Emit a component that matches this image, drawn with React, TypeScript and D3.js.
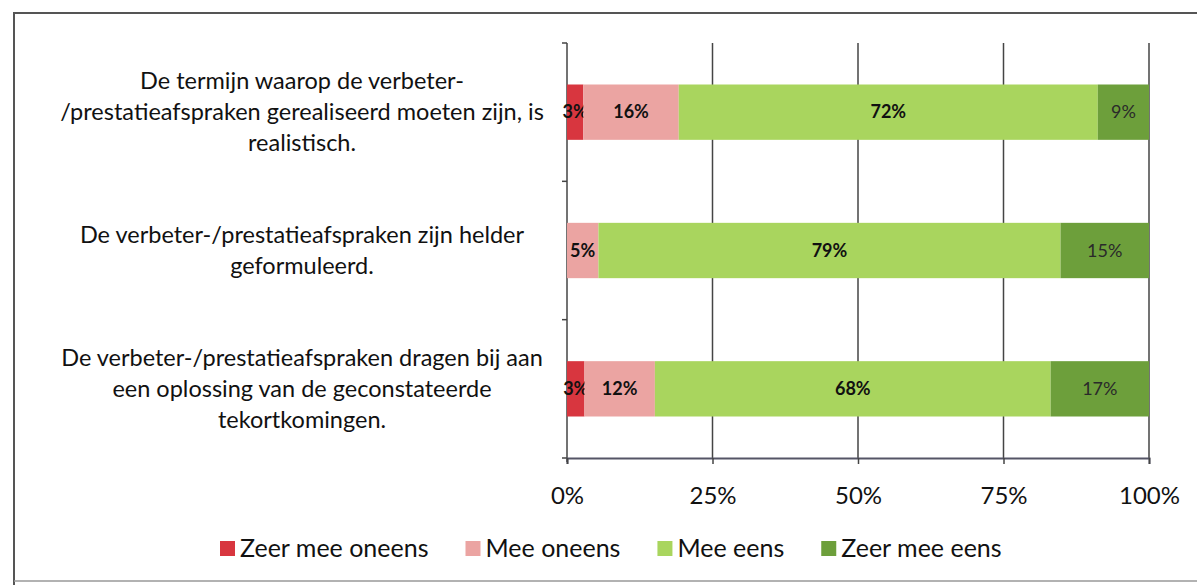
import React, { useEffect, useRef } from 'react';
import * as d3 from 'd3';

const categories = [
    ['De termijn waarop de verbeter-', '/prestatieafspraken gerealiseerd moeten zijn, is', 'realistisch.'],
    ['De verbeter-/prestatieafspraken zijn helder', 'geformuleerd.'],
    ['De verbeter-/prestatieafspraken dragen bij aan', 'een oplossing van de geconstateerde', 'tekortkomingen.'],
];
const seriesNames = ['Zeer mee oneens', 'Mee oneens', 'Mee eens', 'Zeer mee eens'];
// percentages (labels are shown rounded)
const zeerMeeOneens = [2.8, 0, 3.0];
const meeOneens = [16.4, 5.4, 12.1];
const meeEens = [72.0, 79.4, 68.0];
const zeerMeeEens = [8.8, 15.2, 16.9];
const tickValues = [0, 0.25, 0.5, 0.75, 1];
const colors = ['#d8363f', '#eba4a2', '#a9d55e', '#6d9f3b'];

const FONT = 'Lato, "Open Sans", sans-serif';

export default function App() {
    const ref = useRef<SVGSVGElement>(null);

    useEffect(() => {
        const svg = d3.select(ref.current);
        svg.selectAll('*').remove();

        const width = 1197, height = 585;
        const x = d3.scaleLinear().domain([0, 1]).range([567, 1149]);
        const y = d3.scaleBand<number>()
            .domain(d3.range(categories.length))
            .range([43, 458])
            .paddingInner(0.6)
            .paddingOuter(0.3);

        // frame of the scanned page
        svg.append('path')
            .attr('d', `M14,${height} L14,13 L${width},13`)
            .attr('fill', 'none').attr('stroke', '#555').attr('stroke-width', 2);
        svg.append('line')
            .attr('x1', 14).attr('x2', width).attr('y1', 581).attr('y2', 581)
            .attr('stroke', '#999').attr('stroke-width', 1.5);

        // gridlines
        svg.append('g').selectAll('line')
            .data(tickValues.slice(1))
            .join('line')
            .attr('x1', d => x(d)).attr('x2', d => x(d))
            .attr('y1', 43).attr('y2', 458)
            .attr('stroke', '#444').attr('stroke-width', 1.5);

        // y axis
        const yAxis = svg.append('g');
        yAxis.append('line')
            .attr('x1', x(0)).attr('x2', x(0)).attr('y1', 43).attr('y2', 462)
            .attr('stroke', '#444').attr('stroke-width', 1.5);
        const step = y.step();
        yAxis.selectAll('line.tick')
            .data(d3.range(categories.length + 1))
            .join('line')
            .attr('class', 'tick')
            .attr('x1', x(0) - 5).attr('x2', x(0))
            .attr('y1', d => 43 + d * step).attr('y2', d => 43 + d * step)
            .attr('stroke', '#444').attr('stroke-width', 1.5);

        // x axis
        const xAxis = svg.append('g').attr('transform', 'translate(0,458)')
            .call(d3.axisBottom(x).tickValues(tickValues).tickSize(6).tickFormat(d3.format('.0%')));
        xAxis.select('.domain').attr('stroke', '#556').attr('stroke-width', 2);
        xAxis.selectAll('.tick line').attr('stroke', '#444').attr('stroke-width', 1.5);
        xAxis.selectAll('.tick text')
            .attr('y', 29)
            .attr('fill', '#111')
            .style('font-family', FONT).style('font-size', '24px');

        // stacked bars
        const rows = categories.map((c, i) => ({
            i,
            vals: [zeerMeeOneens[i], meeOneens[i], meeEens[i], zeerMeeEens[i]],
        }));
        const stack = d3.stack<any, number>()
            .keys([0, 1, 2, 3])
            .value((d, k) => d.vals[k] / 100);
        const layers = stack(rows);

        const g = svg.append('g');
        layers.forEach((layer, k) => {
            const segs = layer.filter(d => d[1] > d[0]);
            g.append('g').selectAll('rect')
                .data(segs)
                .join('rect')
                .attr('x', d => x(d[0]))
                .attr('width', d => x(d[1]) - x(d[0]))
                .attr('y', d => y(d.data.i)!)
                .attr('height', y.bandwidth())
                .attr('fill', colors[k]);
            g.append('g').selectAll('text')
                .data(segs)
                .join('text')
                .attr('x', d => (x(d[0]) + x(d[1])) / 2)
                .attr('y', d => y(d.data.i)! + y.bandwidth() / 2 + 6)
                .attr('text-anchor', 'middle')
                .attr('fill', k === 3 ? '#2a2a2a' : '#111')
                .style('font-family', FONT)
                .style('font-size', '18px')
                .style('font-weight', k === 3 ? 400 : 700)
                .text(d => Math.round(d.data.vals[k]) + '%');
        });

        // category labels
        const lineH = 31;
        categories.forEach((lines, i) => {
            const cy = y(i)! + y.bandwidth() / 2;
            const t = svg.append('text')
                .attr('text-anchor', 'middle')
                .attr('fill', '#111')
                .style('font-family', FONT)
                .style('font-size', '23.5px');
            lines.forEach((ln, j) => {
                t.append('tspan')
                    .attr('x', 302)
                    .attr('y', cy + (j - (lines.length - 1) / 2) * lineH + 8)
                    .text(ln);
            });
        });

        // legend
        const legend = svg.append('g').attr('transform', 'translate(220,0)');
        let lx = 0;
        seriesNames.forEach((name, k) => {
            const item = legend.append('g').attr('transform', `translate(${lx},0)`);
            item.append('rect')
                .attr('x', 0).attr('y', 541).attr('width', 15).attr('height', 15)
                .attr('fill', colors[k]);
            const txt = item.append('text')
                .attr('x', 20).attr('y', 557)
                .attr('fill', '#111')
                .style('font-family', FONT).style('font-size', '25px')
                .text(name);
            const w = (txt.node() as SVGTextElement).getComputedTextLength();
            lx += 20 + w + 37;
        });
    }, []);

    return (
        <svg ref={ref} width={1197} height={585}
            style={{ position: 'absolute', left: 0, top: 0, background: '#fff' }} />
    );
}
